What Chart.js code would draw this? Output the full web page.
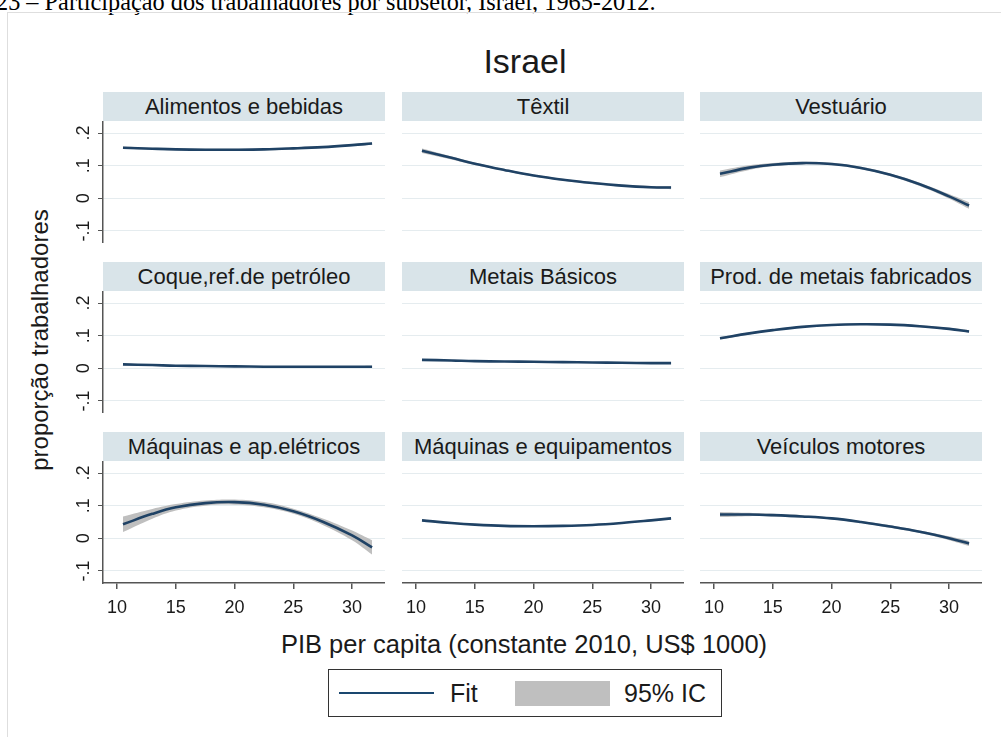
<!DOCTYPE html>
<html>
<head>
<meta charset="utf-8">
<script src="https://cdn.jsdelivr.net/npm/chart.js@4.4.1/dist/chart.umd.min.js"></script>
<style>
  body { margin: 0; width: 1001px; height: 737px; overflow: hidden; background: #fff; position: relative;
         font-family: "Liberation Sans", Arial, sans-serif; color: #1a1a1a; }
  .caption { position: absolute; left: -4px; top: -10px; line-height: 24px; font-size: 24.3px; white-space: nowrap;
             font-family: "Liberation Serif", "Times New Roman", serif; color: #000; }
  .frame { position: absolute; left: 7px; top: 12px; width: 1010px; height: 760px; border: 1px solid #dedede; }
  .title { position: absolute; left: 0; width: 1050px; top: 42px; text-align: center; font-size: 34px; line-height: 38px; }
  .head { position: absolute; height: 29px; line-height: 29px; background: #d9e4e9; text-align: center; font-size: 22px; white-space: nowrap; }
  .panel { position: absolute; }
  .ytitle { position: absolute; left: 40px; top: 340px; width: 400px; margin-left: -200px; text-align: center;
            font-size: 24px; line-height: 26px; margin-top: -13px; transform: rotate(-90deg); white-space: nowrap; }
  .xtitle { position: absolute; left: 0; width: 1048px; top: 631px; text-align: center; font-size: 25.5px; line-height: 26px; white-space: nowrap; }
  .legend { position: absolute; left: 328px; top: 669px; width: 392px; height: 46px; border: 1.5px solid #333; }
  .legend .ln { position: absolute; left: 10px; top: 22px; width: 95px; height: 2px; background: #1a476f; }
  .legend .bx { position: absolute; left: 186px; top: 11px; width: 95px; height: 25px; background: #bfbfbf; }
  .legend .tx { position: absolute; top: 10px; font-size: 25px; line-height: 26px; }
</style>
</head>
<body>
<div class="caption">23 – Participação dos trabalhadores por subsetor, Israel, 1965-2012.</div>
<div class="frame"></div>
<div class="title">Israel</div>
<div class="ytitle">proporção trabalhadores</div>
<div class="xtitle">PIB per capita (constante 2010, US$ 1000)</div>
<div class="legend">
  <div class="ln"></div><div class="tx" style="left:121px">Fit</div>
  <div class="bx"></div><div class="tx" style="left:295px">95% IC</div>
</div>
<div id="grid"></div>
<script>
// x positions (PIB per capita, US$ 1000) where each fitted curve is read
const xVals = [10.5, 13, 15, 17.5, 20, 22.5, 25, 27.5, 30, 31.7];
const xTicks = [10, 15, 20, 25, 30];
const yTicks = [-0.1, 0, 0.1, 0.2];
const yTickLabels = ['-.1', '0', '.1', '.2'];

const subsectors = ['Alimentos e bebidas', 'Têxtil', 'Vestuário',
    'Coque,ref.de petróleo', 'Metais Básicos', 'Prod. de metais fabricados',
    'Máquinas e ap.elétricos', 'Máquinas e equipamentos', 'Veículos motores'];

// fitted values and half width of the 95% band
const fitAlimentos = [0.155, 0.152, 0.150, 0.149, 0.149, 0.150, 0.153, 0.157, 0.163, 0.168];
const ciAlimentos  = [0.004, 0.003, 0.003, 0.003, 0.003, 0.003, 0.003, 0.003, 0.003, 0.004];
const fitTextil    = [0.146, 0.124, 0.106, 0.087, 0.070, 0.057, 0.047, 0.039, 0.034, 0.033];
const ciTextil     = [0.007, 0.005, 0.004, 0.003, 0.003, 0.003, 0.003, 0.003, 0.004, 0.005];
const fitVestuario = [0.075, 0.094, 0.103, 0.108, 0.105, 0.093, 0.072, 0.043, 0.006, -0.022];
const ciVestuario  = [0.010, 0.007, 0.005, 0.004, 0.004, 0.004, 0.004, 0.005, 0.007, 0.010];
const fitCoque     = [0.012, 0.010, 0.008, 0.007, 0.006, 0.005, 0.005, 0.005, 0.005, 0.005];
const ciCoque      = [0.003, 0.002, 0.002, 0.002, 0.002, 0.002, 0.002, 0.002, 0.002, 0.003];
const fitMetais    = [0.026, 0.024, 0.022, 0.021, 0.020, 0.019, 0.018, 0.017, 0.016, 0.016];
const ciMetais     = [0.002, 0.002, 0.001, 0.001, 0.001, 0.001, 0.001, 0.001, 0.002, 0.002];
const fitProdMet   = [0.092, 0.107, 0.117, 0.127, 0.133, 0.135, 0.134, 0.129, 0.121, 0.113];
const ciProdMet    = [0.004, 0.003, 0.003, 0.002, 0.002, 0.002, 0.002, 0.003, 0.003, 0.004];
const fitMaqElet   = [0.043, 0.075, 0.095, 0.108, 0.111, 0.103, 0.083, 0.051, 0.009, -0.028];
const ciMaqElet    = [0.024, 0.015, 0.010, 0.008, 0.008, 0.008, 0.008, 0.010, 0.015, 0.022];
const fitMaqEquip  = [0.055, 0.047, 0.042, 0.038, 0.037, 0.038, 0.041, 0.047, 0.055, 0.061];
const ciMaqEquip   = [0.003, 0.002, 0.002, 0.002, 0.002, 0.002, 0.002, 0.002, 0.002, 0.003];
const fitVeiculos  = [0.073, 0.073, 0.071, 0.067, 0.061, 0.050, 0.036, 0.020, 0.000, -0.016];
const ciVeiculos   = [0.008, 0.005, 0.004, 0.004, 0.003, 0.003, 0.004, 0.004, 0.006, 0.008];

const fits = [fitAlimentos, fitTextil, fitVestuario, fitCoque, fitMetais, fitProdMet, fitMaqElet, fitMaqEquip, fitVeiculos];
const cis = [ciAlimentos, ciTextil, ciVestuario, ciCoque, ciMetais, ciProdMet, ciMaqElet, ciMaqEquip, ciVeiculos];

// layout of the 3x3 panels
const colLeft = [103, 402, 700];
const rowTop = [121, 291, 461];
const plotW = 282, plotH = 122;
const yAxisW = 40, xAxisH = 48;

const axisColor = '#555';
const gridColor = '#e5ecef';

function makePanel(i) {
    const r = Math.floor(i / 3), c = i % 3;
    const left = c === 0, bottom = r === 2;
    const container = document.getElementById('grid');

    const head = document.createElement('div');
    head.className = 'head';
    head.style.left = colLeft[c] + 'px';
    head.style.top = (rowTop[r] - 29) + 'px';
    head.style.width = plotW + 'px';
    head.textContent = subsectors[i];
    container.appendChild(head);

    const div = document.createElement('div');
    div.className = 'panel';
    const w = plotW + (left ? yAxisW : 0);
    const h = plotH + (bottom ? xAxisH : 0);
    div.style.left = (colLeft[c] - (left ? yAxisW : 0)) + 'px';
    div.style.top = rowTop[r] + 'px';
    div.style.width = w + 'px';
    div.style.height = h + 'px';
    const canvas = document.createElement('canvas');
    div.appendChild(canvas);
    container.appendChild(div);

    const fit = fits[i], ci = cis[i];
    const pts = arr => xVals.map((x, k) => ({ x: x, y: arr[k] }));

    new Chart(canvas, {
        type: 'line',
        data: {
            datasets: [
                { data: pts(fit), borderColor: '#1f4265', borderWidth: 2.6, pointRadius: 0, tension: 0.4, fill: false },
                { data: pts(fit.map((v, k) => v - ci[k])), borderWidth: 0, pointRadius: 0, tension: 0.4, fill: false },
                { data: pts(fit.map((v, k) => v + ci[k])), borderWidth: 0, pointRadius: 0, tension: 0.4,
                  fill: 1, backgroundColor: '#bfbfbf' }
            ]
        },
        options: {
            responsive: true,
            maintainAspectRatio: false,
            animation: false,
            events: [],
            layout: { padding: 0, autoPadding: false },
            plugins: { legend: { display: false }, tooltip: { enabled: false } },
            scales: {
                x: {
                    type: 'linear', min: 8.8, max: 32.8,
                    display: bottom,
                    afterBuildTicks: s => { s.ticks = xTicks.map(v => ({ value: v })); },
                    afterFit: s => {
                        s.height = bottom ? xAxisH : 0;
                        s.paddingLeft = s.paddingRight = s.paddingTop = s.paddingBottom = 0;
                    },
                    grid: { drawOnChartArea: false, drawTicks: true, tickLength: 6, tickColor: axisColor, lineWidth: 1.5 },
                    border: { display: true, color: axisColor, width: 1.5 },
                    ticks: { autoSkip: false, maxRotation: 0, padding: 8, color: '#1a1a1a',
                             font: { family: 'Liberation Sans', size: 18 } }
                },
                y: {
                    type: 'linear', min: -0.137, max: 0.237,
                    afterBuildTicks: s => { s.ticks = yTicks.map(v => ({ value: v })); },
                    afterFit: s => {
                        s.width = left ? yAxisW : 0;
                        s.paddingLeft = s.paddingRight = s.paddingTop = s.paddingBottom = 0;
                    },
                    grid: { color: gridColor, lineWidth: 1, drawTicks: left, tickLength: 5, tickColor: axisColor },
                    border: { display: left, color: axisColor, width: 1.5 },
                    ticks: {
                        display: left, autoSkip: false, minRotation: 90, maxRotation: 90, crossAlign: 'center', padding: 3,
                        color: '#1a1a1a', font: { family: 'Liberation Sans', size: 18 },
                        callback: v => yTickLabels[yTicks.indexOf(v)]
                    }
                }
            }
        }
    });
}

for (let i = 0; i < 9; i++) makePanel(i);
</script>
</body>
</html>
